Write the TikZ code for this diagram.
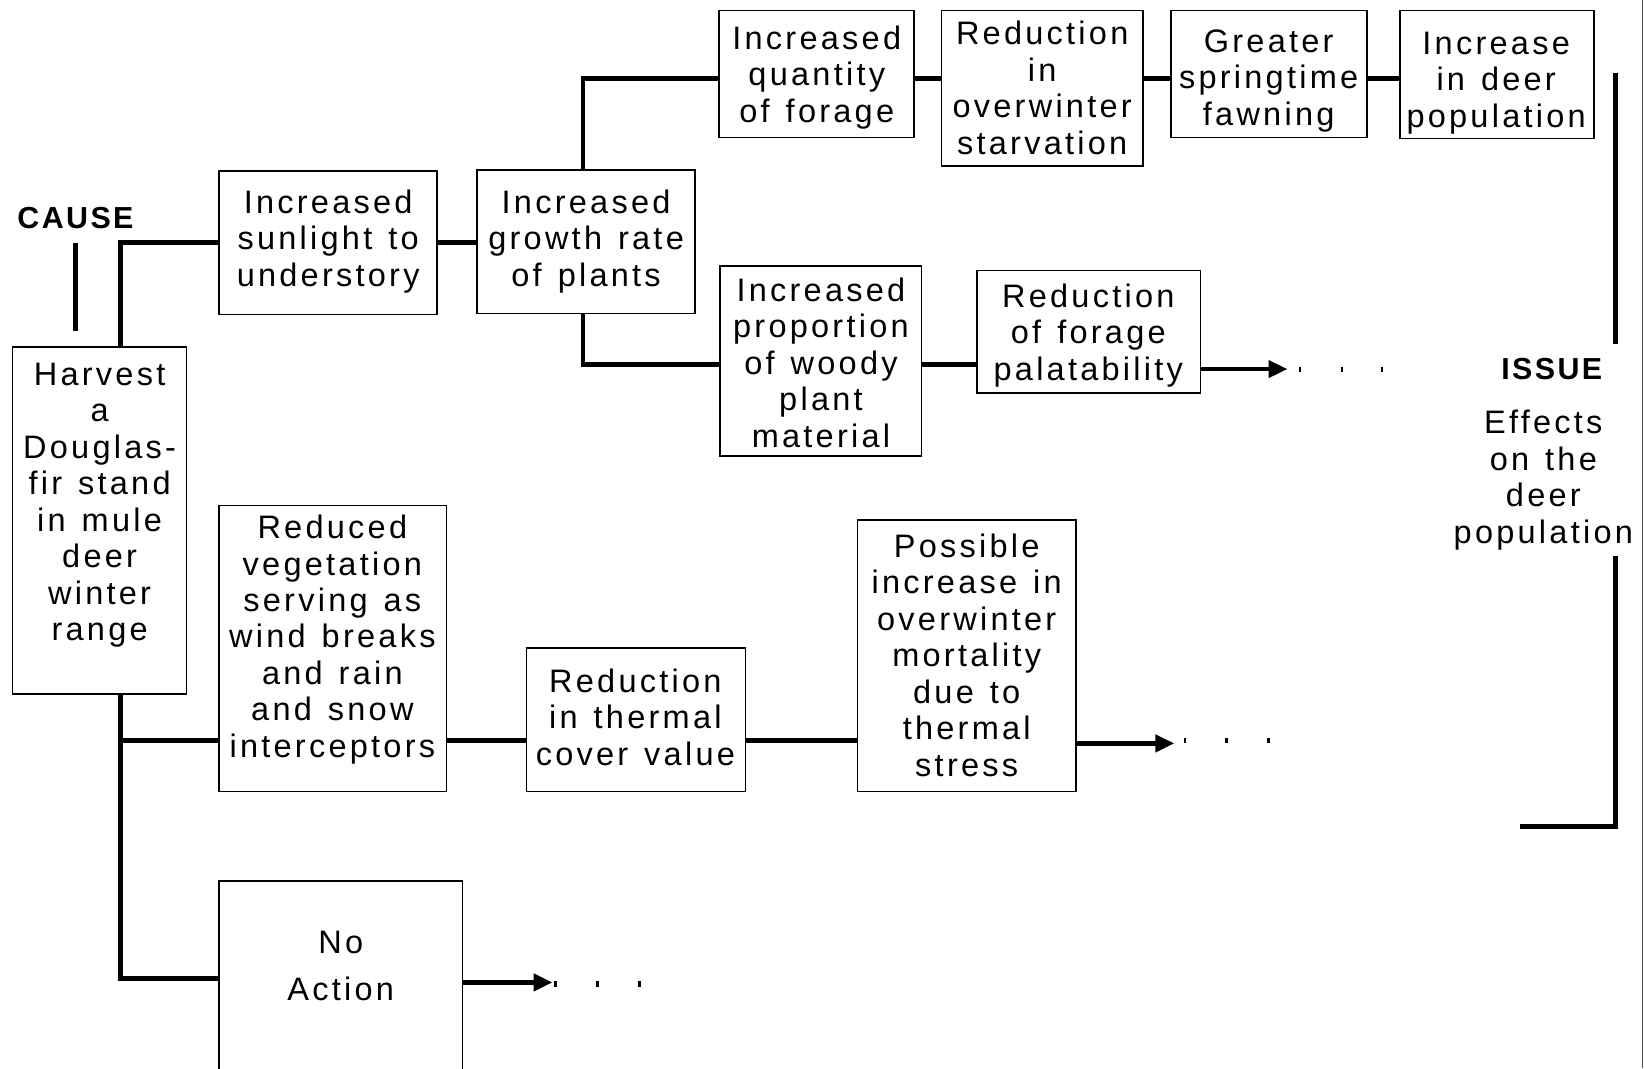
\documentclass[tikz,border=0pt]{standalone}
\usepackage{fontspec}
\setmainfont{Liberation Sans}[LetterSpace=10, WordSpace=1.3]
\newfontfamily\headfont{Liberation Sans}[LetterSpace=8]
\usetikzlibrary{arrows.meta}
\tikzset{
  box/.style={draw, line width=0.8pt, inner sep=0pt, outer sep=0pt},
  txt/.style={align=center, inner sep=0pt, font=\fontsize{15.5}{17.4}\selectfont},
  head/.style={inner sep=0pt, font=\headfont\bfseries\fontsize{14.5}{17.25}\selectfont},
  conn/.style={line width=2.3pt},
  arrowconn/.style={line width=2.3pt, -{Triangle[length=9pt,width=8pt]}},
  tick/.style={line width=1.2pt},
}
\begin{document}
\begin{tikzpicture}[x=0.5pt,y=-0.5pt]
\useasboundingbox (0,0) rectangle (1568,1019);
\clip (0,0) rectangle (1568,1019);

% boxes
\node[box, minimum width=83pt,  minimum height=165.5pt] (harvest)  at (95,496.5)   {};
\node[box, minimum width=104pt, minimum height=68.5pt]  (sun)      at (313,231.5)  {};
\node[box, minimum width=104pt, minimum height=68.5pt]  (growth)   at (559,230.5)  {};
\node[box, minimum width=93pt,  minimum height=60.5pt]  (qty)      at (779,70.5)   {};
\node[box, minimum width=96pt,  minimum height=74pt]    (starv)    at (994,84)     {};
\node[box, minimum width=93.5pt,minimum height=60.5pt]  (fawn)     at (1210.5,70.5){};
\node[box, minimum width=92.5pt,minimum height=61pt]    (incr)     at (1427.5,71)  {};
\node[box, minimum width=96pt,  minimum height=90.5pt]  (woody)    at (783,344.5)  {};
\node[box, minimum width=106.5pt,minimum height=58.5pt] (palat)    at (1038.5,316.5){};
\node[box, minimum width=108.5pt,minimum height=136.5pt](veg)      at (317.5,618.5){};
\node[box, minimum width=104.5pt,minimum height=68.5pt] (thermal)  at (606.5,686.5){};
\node[box, minimum width=104pt, minimum height=129.5pt] (possible) at (922,625.5)  {};
\node[box, minimum width=116pt, minimum height=100pt]   (noaction) at (325,940)    {};

% box texts
\node[txt] (harvestT)  at (95,482)   {Harvest\\a\\Douglas-\\fir stand\\in mule\\deer\\winter\\range};
\node[txt] (sunT)      at (313,230)  {Increased\\sunlight to\\understory};
\node[txt] (growthT)   at (559,230)  {Increased\\growth rate\\of plants};
\node[txt] (qtyT)      at (779,74)   {Increased\\quantity\\of forage};
\node[txt] (starvT)    at (994,84)   {Reduction\\in\\overwinter\\starvation};
\node[txt] (fawnT)     at (1210,77)  {Greater\\springtime\\fawning};
\node[txt] (incrT)     at (1427,79)  {Increase\\in deer\\population};
\node[txt] (woodyT)    at (783,346)  {Increased\\proportion\\of woody\\plant\\material};
\node[txt] (palatT)    at (1038,320) {Reduction\\of forage\\palatability};
\node[txt] (vegT)      at (317,610)  {Reduced\\vegetation\\serving as\\wind breaks\\and rain\\and snow\\interceptors};
\node[txt] (thermalT)  at (606,684)  {Reduction\\in thermal\\cover value};
\node[txt] (possibleT) at (922,625)  {Possible\\increase in\\overwinter\\mortality\\due to\\thermal\\stress};
\node[txt] (noactionT) at (325,921)  {No\\[5pt]Action};

% headings
\node[head] (cause) at (72,208) {CAUSE};
\node[head] (issue) at (1480,352) {ISSUE};
\node[txt]  (effects) at (1472,458) {Effects\\on the\\deer\\population};

% marker under CAUSE
\coordinate (causeA) at (72,232);
\coordinate (causeB) at (72,316);
\draw[conn] (causeA) -- (causeB);

% upper branch
\draw[conn] ([xshift=10pt]harvest.north) |- (sun.west);
\draw[conn] (sun.east) -- (sun.east -| growth.west);
\draw[conn] ([xshift=-1.5pt]growth.north) |- ([yshift=-2pt]qty.west);
\draw[conn] ([xshift=-1.5pt]growth.south) |- ([yshift=-1.5pt]woody.west);
\draw[conn] ([yshift=-2pt]qty.east) -- ([yshift=-2pt]qty.east -| starv.west);
\draw[conn] ([yshift=-2pt]qty.east -| starv.east) -- ([yshift=-2pt]qty.east -| fawn.west);
\draw[conn] ([yshift=-2pt]qty.east -| fawn.east) -- ([yshift=-2pt]qty.east -| incr.west);
\draw[conn] ([yshift=-1.5pt]woody.east) -- ([yshift=-1.5pt]woody.east -| palat.west);
\coordinate (palatEnd) at (1228,352);
\draw[arrowconn, line width=2pt] (palat.east |- palatEnd) -- (palatEnd);

% lower branches
\coordinate (row2) at (115,706);
\coordinate (row3) at (115,933);
\draw[conn] ([xshift=10pt]harvest.south) |- (row3 -| noaction.west);
\draw[conn] (row2) -- (row2 -| veg.west);
\draw[conn] (row2 -| veg.east) -- (row2 -| thermal.west);
\draw[conn] (row2 -| thermal.east) -- (row2 -| possible.west);
\coordinate (possEnd) at (1120,709);
\draw[arrowconn] (possible.east |- possEnd) -- (possEnd);
\coordinate (noEnd) at (527,937);
\draw[arrowconn] (noaction.east |- noEnd) -- (noEnd);

% trailing dots
\foreach \x in {1240,1280,1318} \draw[tick] (\x,350) -- (\x,355);
\foreach \x in {1130,1170,1210} \draw[tick] (\x,704) -- (\x,709);
\foreach \x in {530,570,610}    \draw[tick] (\x,936) -- (\x,941);

% issue bracket
\coordinate (bt1) at (1541,70);
\coordinate (bt2) at (1541,328);
\coordinate (bb1) at (1541,530);
\coordinate (bb2) at (1541,788);
\coordinate (bb3) at (1450,788);
\draw[conn] (bt1) -- (bt2);
\draw[conn] (bb1) -- (bb2) -- (bb3);

% page edge
\draw[line width=0.5pt, black!70] (1566.5,0) -- (1566.5,1019);
\end{tikzpicture}
\end{document}
